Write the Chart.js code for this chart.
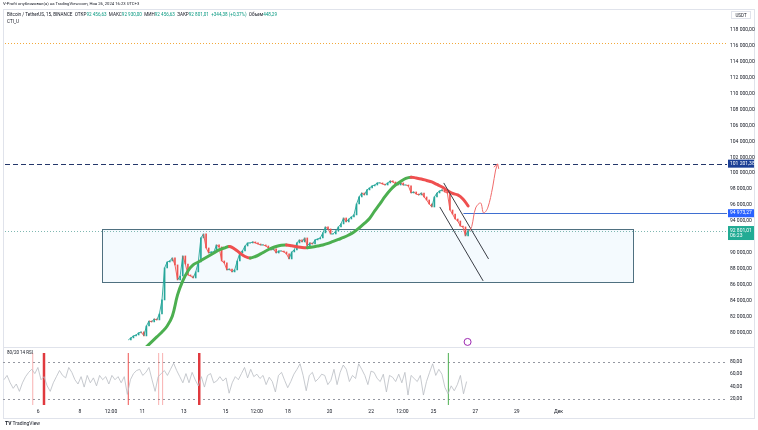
<!DOCTYPE html>
<html lang="ru">
<head>
<meta charset="utf-8">
<title>BTCUSDT 15</title>
<script src="https://cdn.jsdelivr.net/npm/chart.js@4.4.1/dist/chart.umd.min.js"></script>
<style>
  body { margin: 0; background: #fff; }
  #page { position: relative; width: 758px; height: 430px; overflow: hidden; background: #fff;
          font-family: Roboto, "Liberation Sans", Arial, sans-serif; color: #131722; }
  canvas { position: absolute; left: 0; }
  #main { top: 0; }
  #rsi { top: 347px; }
  .line { position: absolute; background: #e0e3eb; }
  .frame { position: absolute; border: 1px solid #e0e3eb; box-sizing: border-box; }
  .txt { position: absolute; white-space: nowrap; line-height: 1; }
  .v { color: #089981; }
</style>
</head>
<body>
<div id="page">
  <div class="frame" style="left:3px;top:9px;width:752px;height:410px;"></div>
  <div class="line" style="left:3px;top:347px;width:752px;height:1px;"></div>
  <canvas id="main" width="758" height="352"></canvas>
  <canvas id="rsi" width="758" height="72"></canvas>

  <div class="txt" style="left:3px;top:2px;font-size:4.2px;">V-Profit опубликовал(а) на TradingView.com, Ноя 26, 2024 16:23 UTC+3</div>
  <div class="txt" style="left:7px;top:13px;font-size:4.6px;">Bitcoin / TetherUS, 15, BINANCE &nbsp;ОТКР<span class="v">92 456,63</span> &nbsp;МАКС<span class="v">92 930,00</span> &nbsp;МИН<span class="v">92 456,63</span> &nbsp;ЗАКР<span class="v">92 801,01</span> &nbsp;<span class="v">+344,38 (+0,37%)</span> &nbsp;Объем<span class="v">448,29</span></div>
  <div class="txt" style="left:7px;top:20px;font-size:4.6px;">CTI_U</div>
  <div class="txt" style="left:731px;top:11px;width:20px;height:8px;border:1px solid #e0e3eb;font-size:4.5px;line-height:8px;text-align:center;box-sizing:border-box;">USDT</div>
  <div class="txt" style="left:7px;top:351px;font-size:4.5px;">80/20 14 RSI</div>
  <div class="txt" style="left:5px;top:421px;font-size:5px;"><b>TV</b> TradingView</div>
</div>

<script>
// view range (days of November) and axis ticks
const xMin = 4.31, xMax = 39.1;
const yMin = 78294, yMax = 120630;
const tickDays = [6, 8, 9.5, 11, 13, 15, 16.5, 18, 20, 22, 23.5, 25, 27, 29, 31];
const tickLabels = ['6', '8', '12:00', '11', '13', '15', '12:00', '18', '20', '22', '12:00', '25', '27', '29', 'Дек'];
const priceTicks = [80000, 82000, 84000, 86000, 88000, 90000, 94000, 96000, 98000, 100000,
  102000, 104000, 106000, 108000, 110000, 112000, 114000, 116000, 118000];
const rsiTicks = [80, 60, 40, 20];
const rsiBands = [80, 20];

// BTC/USDT closes, every 3 hours from Nov 10 06:00
const priceStart = 10.25, priceStep = 0.125;
const closes = [
  79060, 79310, 79560, 79680, 79940, 80060, 79560, 80810, 81440, 81320,
  81690, 81570, 82320, 84080, 88100, 88850, 88980, 89360, 88480, 86590,
  87090, 89610, 88600, 87220, 87090, 86840, 87600, 88850, 91870, 92370,
  90610, 89980, 90110, 90110, 90990, 90740, 88980, 88730, 87850, 87970,
  87600, 87850, 88980, 89980, 90230, 90860, 91240, 91240, 91370, 91240,
  91110, 90990, 90990, 90860, 90610, 90360, 90490, 89980, 90230, 90230,
  90110, 89860, 89230, 90110, 90360, 91240, 91620, 91370, 91870, 90860,
  91240, 91110, 91620, 91740, 91870, 92500, 93250, 93000, 92370, 92370,
  92750, 93250, 93630, 94380, 93880, 94250, 94510, 94760, 96140, 97020,
  97520, 97270, 97900, 98150, 98400, 98520, 98780, 98780, 98650, 98520,
  98780, 99030, 98900, 98650, 98520, 98780, 98520, 98520, 98400, 97520,
  97650, 97390, 97270, 97520, 97020, 96640, 96140, 95760, 97020, 97520,
  97770, 97900, 97650, 97520, 95380, 94880, 94250, 94000, 93370, 93250,
  92120, 92801.01
];

// CTI_U smoothed line, every 6 hours
const ctiStart = 10.875, ctiStep = 0.25;
const ctiValues = [
  77550, 78180, 78810, 79430, 80060, 80810, 82070, 84710, 86470, 87720,
  88480, 88850, 89230, 89610, 89980, 90360, 90610, 90800, 90490, 89980,
  89540, 89360, 89540, 89860, 90230, 90550, 90800, 90950, 90990, 90890,
  90770, 90670, 90650, 90740, 90860, 90990, 91180, 91430, 91680, 91930,
  92240, 92620, 93120, 93690, 94320, 95260, 96140, 97080, 97900, 98520,
  98960, 99340, 99490, 99400, 99280, 99090, 98900, 98590, 98270, 97830,
  97460, 97270, 96770, 95890
];

// RSI 14
const rsiStart = 4.357, rsiStep = 0.1482;
const rsiValues = [
  51, 58, 46, 37, 44, 32, 46, 56, 63, 68,
  61, 71, 51, 56, 41, 32, 46, 56, 66, 58,
  54, 71, 63, 51, 44, 56, 39, 58, 46, 54,
  41, 58, 51, 56, 44, 58, 51, 56, 46, 56,
  27, 51, 61, 66, 68, 58, 63, 71, 51, 32,
  56, 61, 66, 58, 68, 78, 66, 56, 46, 61,
  46, 63, 51, 41, 56, 39, 58, 61, 46, 49,
  56, 49, 54, 29, 46, 56, 51, 61, 71, 54,
  68, 56,
  60, 53, 58, 43, 55, 48, 31, 58, 63, 50,
  38, 48, 60, 68, 77, 58, 33, 58, 63, 48,
  53, 60, 58, 43, 50, 68, 43, 63, 75, 68,
  48, 58, 53, 77, 68, 58, 43, 65, 63, 53,
  48, 60, 31, 58, 55, 48, 60, 46, 63, 26,
  58, 53, 48, 58, 26, 48, 63, 77, 58, 68,
  60, 38, 28, 41, 33, 43, 58, 28, 48
];
const signalDays = [5.74, 6.28, 10.33, 11.79, 11.98, 13.74, 25.71];
const signalKinds = ['weak', 'strong', 'mid', 'weak', 'weak', 'strong', 'buy'];

// drawings on the price pane
const zoneDays = [8.97, 34.58];
const zonePrices = [93000, 86350];
const levelPrices = [116400, 101201.38, 94973.27, 92801.01];
const levelStarts = [null, null, 26.4, null];
const projDays = [26.68, 26.8, 26.99, 27.23, 27.37, 27.57, 27.81, 27.95, 28.05];
const projPrices = [92700, 93300, 95640, 96260, 95010, 95640, 98270, 100410, 101160];
const chanADays = [25.45, 27.61], chanAPrices = [98780, 89230];
const chanBDays = [25.26, 27.35], chanBPrices = [95760, 86470];
const eventDays = [26.6], eventPrices = [78805];
const badgePrices = [101201.38, 94973.27, 92801.01];
const countdown = '06:23';

const ink = '#131722';
Chart.defaults.font.family = 'Roboto, "Liberation Sans", Arial, sans-serif';
Chart.defaults.color = ink;

const fmt = v => v.toLocaleString('ru-RU', { minimumFractionDigits: 2, maximumFractionDigits: 2 });
const series = (start, step, values) => values.map((v, i) => ({ x: start + i * step, y: v }));
const pairs = (xs, ys) => xs.map((x, i) => ({ x, y: ys[i] }));
const upDown = (up, down) => c => (c.p1.parsed.y >= c.p0.parsed.y ? up : down);
// candle bodies: open = previous close
const bodies = closes.slice(1).map((c, i) => ({ x: priceStart + (i + 1) * priceStep, y: [closes[i], c] }));
const bodyColors = bodies.map(b => (b.y[1] >= b.y[0] ? '#26a69a' : '#ef5350'));

const levelStyles = [
  { color: '#f2a93b', dash: [1, 2] },
  { color: '#24376a', dash: [5, 3] },
  { color: '#3f6fd1', dash: [] },
  { color: '#7fb8b2', dash: [1, 2] }
];
const badgeColors = ['#1c3f95', '#2962ff', '#22ab94'];
const signalStyles = {
  weak: { color: 'rgba(239, 83, 80, 0.45)', width: 1 },
  mid: { color: '#ef5350', width: 1 },
  strong: { color: '#e0393e', width: 2.5 },
  buy: { color: '#4caf50', width: 1 }
};

const mainDrawings = {
  id: 'mainDrawings',
  beforeDatasetsDraw(chart) {
    const { ctx, chartArea: a, scales: { x, y } } = chart;
    ctx.save();
    ctx.beginPath();
    ctx.rect(a.left, a.top, a.width, a.height);
    ctx.clip();
    const x0 = Math.round(x.getPixelForValue(zoneDays[0])), x1 = Math.round(x.getPixelForValue(zoneDays[1]));
    const y0 = Math.round(y.getPixelForValue(zonePrices[0])), y1 = Math.round(y.getPixelForValue(zonePrices[1]));
    ctx.fillStyle = 'rgba(33, 150, 243, 0.05)';
    ctx.fillRect(x0, y0, x1 - x0, y1 - y0);
    ctx.strokeStyle = '#4f7080';
    ctx.lineWidth = 1;
    ctx.strokeRect(x0 + 0.5, y0 + 0.5, x1 - x0, y1 - y0);
    levelPrices.forEach((p, i) => {
      const yy = Math.round(y.getPixelForValue(p)) + 0.5;
      const from = levelStarts[i] === null ? a.left : x.getPixelForValue(levelStarts[i]);
      ctx.strokeStyle = levelStyles[i].color;
      ctx.setLineDash(levelStyles[i].dash);
      ctx.beginPath();
      ctx.moveTo(from, yy);
      ctx.lineTo(a.right, yy);
      ctx.stroke();
    });
    ctx.restore();
  },
  afterDraw(chart) {
    const { ctx, chartArea: a, scales: { y } } = chart;
    ctx.save();
    // arrow head on the projection path
    const pts = chart.getDatasetMeta(3).data;
    const p = pts[pts.length - 1], q = pts[pts.length - 2];
    const ang = Math.atan2(p.y - q.y, p.x - q.x);
    ctx.strokeStyle = '#f06b6b';
    ctx.lineWidth = 1;
    ctx.beginPath();
    ctx.moveTo(p.x - 5 * Math.cos(ang - 0.55), p.y - 5 * Math.sin(ang - 0.55));
    ctx.lineTo(p.x, p.y);
    ctx.lineTo(p.x - 5 * Math.cos(ang + 0.55), p.y - 5 * Math.sin(ang + 0.55));
    ctx.stroke();
    // price badges on the axis
    ctx.font = '5px Roboto, "Liberation Sans", sans-serif';
    ctx.textBaseline = 'middle';
    badgePrices.forEach((v, i) => {
      const yy = y.getPixelForValue(v);
      const last = i === badgePrices.length - 1;
      ctx.fillStyle = badgeColors[i];
      ctx.fillRect(a.right + 1, last ? yy - 4.5 : yy - 4, 26, last ? 14 : 8);
      ctx.fillStyle = '#fff';
      ctx.fillText(fmt(v), a.right + 3, yy);
      if (last) ctx.fillText(countdown, a.right + 3, yy + 5.5);
    });
    ctx.restore();
  }
};

const rsiDrawings = {
  id: 'rsiDrawings',
  beforeDatasetsDraw(chart) {
    const { ctx, chartArea: a, scales: { x, y } } = chart;
    ctx.save();
    ctx.strokeStyle = '#9598a1';
    ctx.lineWidth = 1;
    ctx.setLineDash([2, 3]);
    rsiBands.forEach(v => {
      const yy = Math.round(y.getPixelForValue(v)) + 0.5;
      ctx.beginPath();
      ctx.moveTo(a.left, yy);
      ctx.lineTo(a.right, yy);
      ctx.stroke();
    });
    ctx.setLineDash([]);
    signalDays.forEach((d, i) => {
      const s = signalStyles[signalKinds[i]];
      const xx = x.getPixelForValue(d);
      ctx.strokeStyle = s.color;
      ctx.lineWidth = s.width;
      ctx.beginPath();
      ctx.moveTo(xx, a.top);
      ctx.lineTo(xx, a.bottom);
      ctx.stroke();
    });
    ctx.restore();
  }
};

new Chart(document.getElementById('main'), {
  type: 'line',
  data: {
    datasets: [
      { type: 'bar', data: bodies, backgroundColor: bodyColors, barThickness: 1, order: 3 },
      { data: series(priceStart, priceStep, closes), borderColor: '#26a69a', borderWidth: 0.9, order: 2,
        segment: { borderColor: upDown('#26a69a', '#ef5350') } },
      { data: series(ctiStart, ctiStep, ctiValues), borderColor: '#4caf50', borderWidth: 3, tension: 0.4,
        borderCapStyle: 'round', order: 1, segment: { borderColor: upDown('#4caf50', '#ef4f4f') } },
      { data: pairs(projDays, projPrices), borderColor: '#f06b6b', borderWidth: 1, tension: 0.35, order: 0 },
      { data: pairs(chanADays, chanAPrices), borderColor: '#3a3d45', borderWidth: 1, order: 0 },
      { data: pairs(chanBDays, chanBPrices), borderColor: '#3a3d45', borderWidth: 1, order: 0 },
      { data: pairs(eventDays, eventPrices), showLine: false, pointRadius: 3.5, pointBorderWidth: 1,
        pointBorderColor: '#9c27b0', pointBackgroundColor: '#fff', order: 0 }
    ]
  },
  options: {
    responsive: false,
    animation: false,
    devicePixelRatio: 1,
    layout: { padding: { left: 3, right: 3, top: 9, bottom: 6 } },
    plugins: { legend: { display: false }, tooltip: { enabled: false } },
    elements: { point: { radius: 0 } },
    scales: {
      x: { type: 'linear', min: xMin, max: xMax, display: false, offset: false },
      y: {
        position: 'right', min: yMin, max: yMax,
        grid: { display: false, drawTicks: false }, border: { display: false },
        afterFit: s => { s.width = 28; },
        afterBuildTicks: s => { s.ticks = priceTicks.map(v => ({ value: v })); },
        ticks: { autoSkip: false, font: { size: 5 }, padding: 3, callback: v => fmt(v) }
      }
    }
  },
  plugins: [mainDrawings]
});

new Chart(document.getElementById('rsi'), {
  type: 'line',
  data: {
    datasets: [
      { data: series(rsiStart, rsiStep, rsiValues), borderColor: '#b9bcc3', borderWidth: 0.8 }
    ]
  },
  options: {
    responsive: false,
    animation: false,
    devicePixelRatio: 1,
    layout: { padding: { left: 3, right: 3, top: 0, bottom: 0 } },
    plugins: { legend: { display: false }, tooltip: { enabled: false } },
    elements: { point: { radius: 0 } },
    scales: {
      x: {
        type: 'linear', min: xMin, max: xMax,
        grid: { display: false, drawTicks: false }, border: { display: false },
        afterFit: s => { s.height = 14; },
        afterBuildTicks: s => { s.ticks = tickDays.map(v => ({ value: v })); },
        ticks: { autoSkip: false, maxRotation: 0, font: { size: 5 }, padding: 4, callback: (v, i) => tickLabels[i] }
      },
      y: {
        position: 'right', min: 9.75, max: 94.6,
        grid: { display: false, drawTicks: false }, border: { display: false },
        afterFit: s => { s.width = 28; },
        afterBuildTicks: s => { s.ticks = rsiTicks.map(v => ({ value: v })); },
        ticks: { autoSkip: false, font: { size: 5 }, padding: 3, callback: v => fmt(v) }
      }
    }
  },
  plugins: [rsiDrawings]
});
</script>
</body>
</html>
